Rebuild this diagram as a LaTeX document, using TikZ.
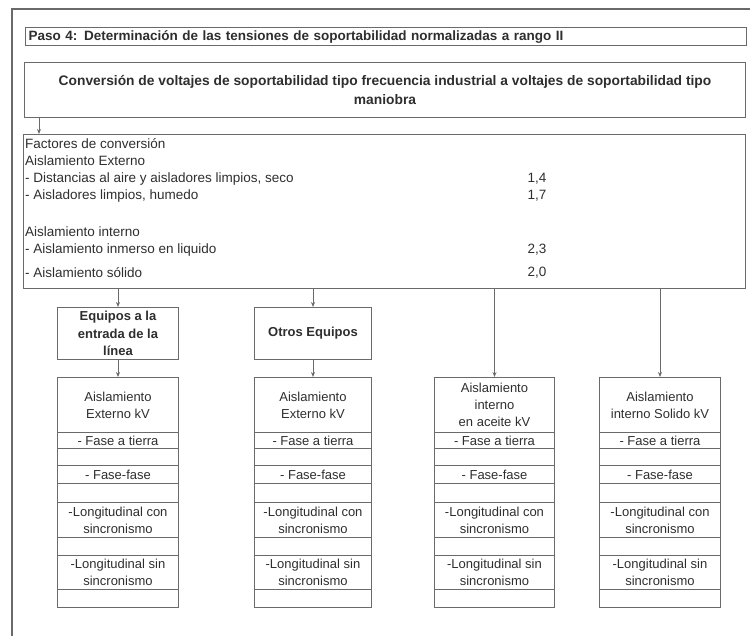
\documentclass[tikz,border=0pt]{standalone}
\usepackage{fontspec}
\setmainfont{Liberation Sans}
\usetikzlibrary{arrows.meta}
\definecolor{grislinea}{HTML}{6A6A6A}
\definecolor{gristexto}{HTML}{2E2E2E}
\tikzset{
  caja/.style={draw=grislinea, line width=1pt, inner sep=0pt, text=gristexto},
  celda/.style={caja, anchor=north west, align=center, font=\fontsize{13}{17}\selectfont},
  linea/.style={anchor=west, inner sep=0pt, text=gristexto, font=\fontsize{13.5}{17}\selectfont},
  flecha/.style={draw=grislinea, line width=1pt, -{Stealth[length=5pt,width=4pt]}},
}

\begin{document}
\begin{tikzpicture}[x=1pt,y=-1pt]
  \useasboundingbox (0,0) rectangle (750,636);
  \draw[grislinea, line width=2pt] (750,9) -- (12,9) -- (12,636); % marco

  % encabezados
  \node[caja, anchor=north west, minimum width=721pt, minimum height=18pt, text width=715pt, align=left,
        font=\bfseries\fontsize{13.5}{17}\selectfont] (paso) at (25,27)
        {Paso 4: Determinación de las tensiones de soportabilidad normalizadas a rango II};
  \node[caja, anchor=north west, minimum width=721pt, minimum height=55pt, align=center,
        font=\bfseries\fontsize{13.8}{19}\selectfont] (conv) at (24,62)
        {Conversión de voltajes de soportabilidad tipo frecuencia industrial a voltajes de soportabilidad tipo\\maniobra};

  % factores de conversion
  \node[caja, anchor=north west, minimum width=722pt, minimum height=154pt] (fac) at (23,134) {};
  \node[linea] (f1) at (25,144) {Factores de conversión};
  \node[linea] (f2) at (25,161) {Aislamiento Externo};
  \node[linea] (f3) at (25,179) {- Distancias al aire y aisladores limpios, seco};
  \node[linea] (f4) at (25,196) {- Aisladores limpios, humedo};
  \node[linea] (f5) at (25,232) {Aislamiento interno};
  \node[linea] (f6) at (25,250) {- Aislamiento inmerso en liquido};
  \node[linea] (f7) at (25,273) {- Aislamiento sólido};
  \node[linea, anchor=center] (v1) at (537,179) {1,4};
  \node[linea, anchor=center] (v2) at (537,196) {1,7};
  \node[linea, anchor=center] (v3) at (537,250) {2,3};
  \node[linea, anchor=center] (v4) at (537,273) {2,0};

  % equipos
  \node[celda, font=\bfseries\fontsize{13}{17.5}\selectfont, minimum width=121pt, minimum height=52pt] (ha) at (57,307)
        {Equipos a la\\entrada de la\\línea};
  \node[celda, font=\bfseries\fontsize{13}{17.5}\selectfont, minimum width=117pt, minimum height=52pt] (hb) at (254,307)
        {Otros Equipos};

  % tablas
  \foreach \n/\xl/\xr/\enc in {ta/57/178/{Aislamiento\\Externo kV}, tb/254/371/{Aislamiento\\Externo kV},
                               tc/434/554/{Aislamiento\\interno\\en aceite kV}, td/599/720/{Aislamiento\\interno Solido kV}}
    \foreach \r/\ya/\yb/\txt in {0/377/432/\enc, 1/432/448/{- Fase a tierra}, 2/448/465/{}, 3/465/483/{- Fase-fase},
                                 4/483/502/{}, 5/502/537/{-Longitudinal con\\sincronismo}, 6/537/555/{},
                                 7/555/589/{-Longitudinal sin\\sincronismo}, 8/589/607/{}}
      \node[celda, minimum width={(\xr-\xl)*1pt}, minimum height={(\yb-\ya)*1pt}] (\n\r) at (\xl,\ya) {\txt};

  % flechas
  \draw[flecha] ([xshift=15pt]conv.south west) -- ([xshift=15pt]conv.south west |- fac.north);
  \draw[flecha] (fac.south -| ha.north) -- (ha.north);
  \draw[flecha] (ha.south) -- (ta0.north);
  \draw[flecha] (fac.south -| hb.north) -- (hb.north);
  \draw[flecha] (hb.south) -- (tb0.north);
  \draw[flecha] (fac.south -| tc0.north) -- (tc0.north);
  \draw[flecha] (fac.south -| td0.north) -- (td0.north);
\end{tikzpicture}
\end{document}
